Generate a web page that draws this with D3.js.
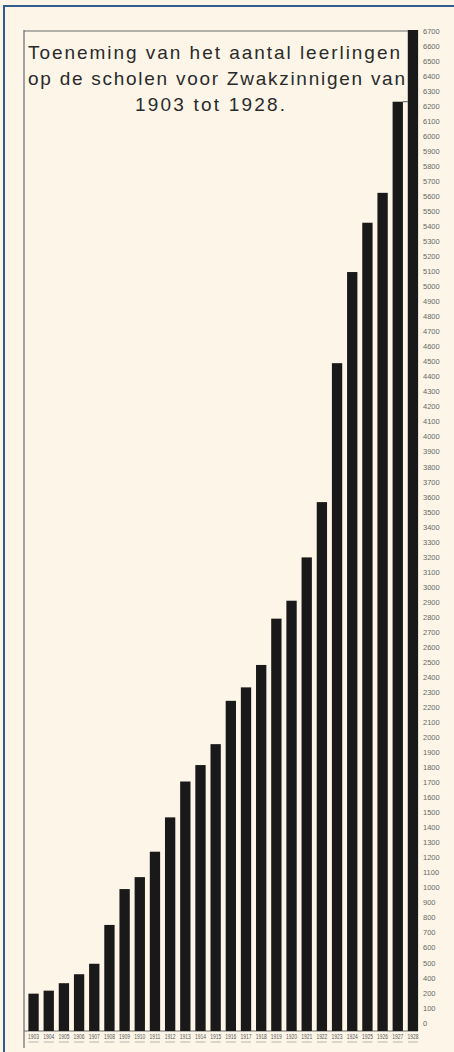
<!DOCTYPE html>
<html>
<head>
<meta charset="utf-8">
<script src="https://cdn.jsdelivr.net/npm/d3@7"></script>
<style>
  html, body { margin: 0; padding: 0; background: #fff; }
  svg { display: block; }
</style>
</head>
<body>
<div class="svg-container"></div>
<script>
// years on the x axis
const years = [
  "1903", "1904", "1905", "1906", "1907", "1908", "1909", "1910", "1911",
  "1912", "1913", "1914", "1915", "1916", "1917", "1918", "1919", "1920",
  "1921", "1922", "1923", "1924", "1925", "1926", "1927", "1928",
];

// number of pupils
const leerlingen = [
  250, 270, 320, 380, 450, 710, 950, 1030, 1200, 1430, 1670, 1780, 1920,
  2210, 2300, 2450, 2760, 2880, 3170, 3540, 4470, 5080, 5410, 5610, 6220, 6700,
];

// the printed scale on the right (300 is missing in the original)
const yTickLabels = [
  "6700", "6600", "6500", "6400", "6300", "6200", "6100", "6000", "5900",
  "5800", "5700", "5600", "5500", "5400", "5300", "5200", "5100", "5000",
  "4900", "4800", "4700", "4600", "4500", "4400", "4300", "4200", "4100",
  "4000", "3900", "3800", "3700", "3600", "3500", "3400", "3300", "3200",
  "3100", "3000", "2900", "2800", "2700", "2600", "2500", "2400", "2300",
  "2200", "2100", "2000", "1900", "1800", "1700", "1600", "1500", "1400",
  "1300", "1200", "1100", "1000", "900", "800", "700", "600", "500",
  "400", "200", "100", "0",
];

const titleLines = [
  "Toeneming van het aantal leerlingen",
  "op de scholen voor Zwakzinnigen van",
  "1903 tot 1928.",
];

const width = 454;
const height = 1052;
const data = years.map((year, i) => ({ year, value: leerlingen[i] }));

const svg = d3
  .select(".svg-container")
  .append("svg")
  .attr("width", width)
  .attr("height", height);

// paper background and the blue frame of the scan
svg.append("rect").attr("width", width).attr("height", height).attr("fill", "#fdf6e8");
svg.append("line").attr("x1", 4).attr("x2", width).attr("y1", 6).attr("y2", 6)
  .attr("stroke", "#2f5d8c").attr("stroke-width", 2);
svg.append("line").attr("x1", 4).attr("x2", 4).attr("y1", 5).attr("y2", height)
  .attr("stroke", "#2f5d8c").attr("stroke-width", 2);

// scales
const xScale = d3
  .scaleBand()
  .domain(years)
  .range([24, 422.5])
  .paddingInner(0.32)
  .paddingOuter(0.29);

const yScale = d3.scaleLinear().domain([0, 6700]).range([1031, 30]);

// printed labels are evenly spaced, so they get their own point scale
const labelScale = d3.scalePoint().domain(yTickLabels).range([31, 1023]);

// chart frame: left line, top line, baseline
const frame = svg.append("g").attr("stroke", "#6b6b6b").attr("stroke-width", 1.2);
frame.append("line").attr("x1", 24).attr("x2", 24).attr("y1", 30).attr("y2", 1048);
frame.append("line").attr("x1", 24).attr("x2", xScale("1928")).attr("y1", 31).attr("y2", 31);
frame.append("line").attr("x1", 24).attr("x2", xScale("1928") + xScale.bandwidth())
  .attr("y1", yScale(0)).attr("y2", yScale(0));

// title
svg
  .append("g")
  .selectAll("text")
  .data(titleLines)
  .enter()
  .append("text")
  .attr("x", (d, i) => (i < 2 ? 28 : 210))
  .attr("y", (d, i) => 59 + i * 26)
  .attr("text-anchor", (d, i) => (i < 2 ? "start" : "middle"))
  .attr("textLength", (d, i) => (i === 0 ? 372 : i === 1 ? 377 : 150))
  .attr("lengthAdjust", "spacing")
  .attr("font-family", "'Liberation Sans', Arial, sans-serif")
  .attr("font-size", 19)
  .attr("fill", "#2a2a2a")
  .text((d) => d);

// bars
svg
  .append("g")
  .selectAll("rect")
  .data(data)
  .enter()
  .append("rect")
  .attr("x", (d) => xScale(d.year))
  .attr("y", (d) => yScale(d.value))
  .attr("width", xScale.bandwidth())
  .attr("height", (d) => yScale(0) - yScale(d.value))
  .attr("fill", "#191919");

// little connector from the 1927 bar to the 1928 bar
const last = data[data.length - 2];
svg
  .append("line")
  .attr("x1", xScale(last.year) + xScale.bandwidth())
  .attr("x2", xScale("1928"))
  .attr("y1", yScale(last.value))
  .attr("y2", yScale(last.value))
  .attr("stroke", "#555")
  .attr("stroke-width", 1);

// scale labels on the right
svg
  .append("g")
  .selectAll("text")
  .data(yTickLabels)
  .enter()
  .append("text")
  .attr("x", 423)
  .attr("y", (d) => labelScale(d))
  .attr("dy", "0.35em")
  .attr("font-family", "'Liberation Sans', Arial, sans-serif")
  .attr("font-size", 7.5)
  .attr("fill", "#666")
  .text((d) => d);

// year labels below the bars, each with a small underline
const yearLabels = svg.append("g");
yearLabels
  .selectAll("text")
  .data(years)
  .enter()
  .append("text")
  .attr("x", (d) => xScale(d) + xScale.bandwidth() / 2)
  .attr("y", 1039)
  .attr("text-anchor", "middle")
  .attr("textLength", 11)
  .attr("lengthAdjust", "spacingAndGlyphs")
  .attr("font-family", "'Liberation Sans', Arial, sans-serif")
  .attr("font-size", 6.5)
  .attr("fill", "#555")
  .text((d) => d);
yearLabels
  .selectAll("line")
  .data(years)
  .enter()
  .append("line")
  .attr("x1", (d) => xScale(d) + xScale.bandwidth() / 2 - 5)
  .attr("x2", (d) => xScale(d) + xScale.bandwidth() / 2 + 5)
  .attr("y1", 1042)
  .attr("y2", 1042)
  .attr("stroke", "#999")
  .attr("stroke-width", 0.7);
</script>
</body>
</html>
